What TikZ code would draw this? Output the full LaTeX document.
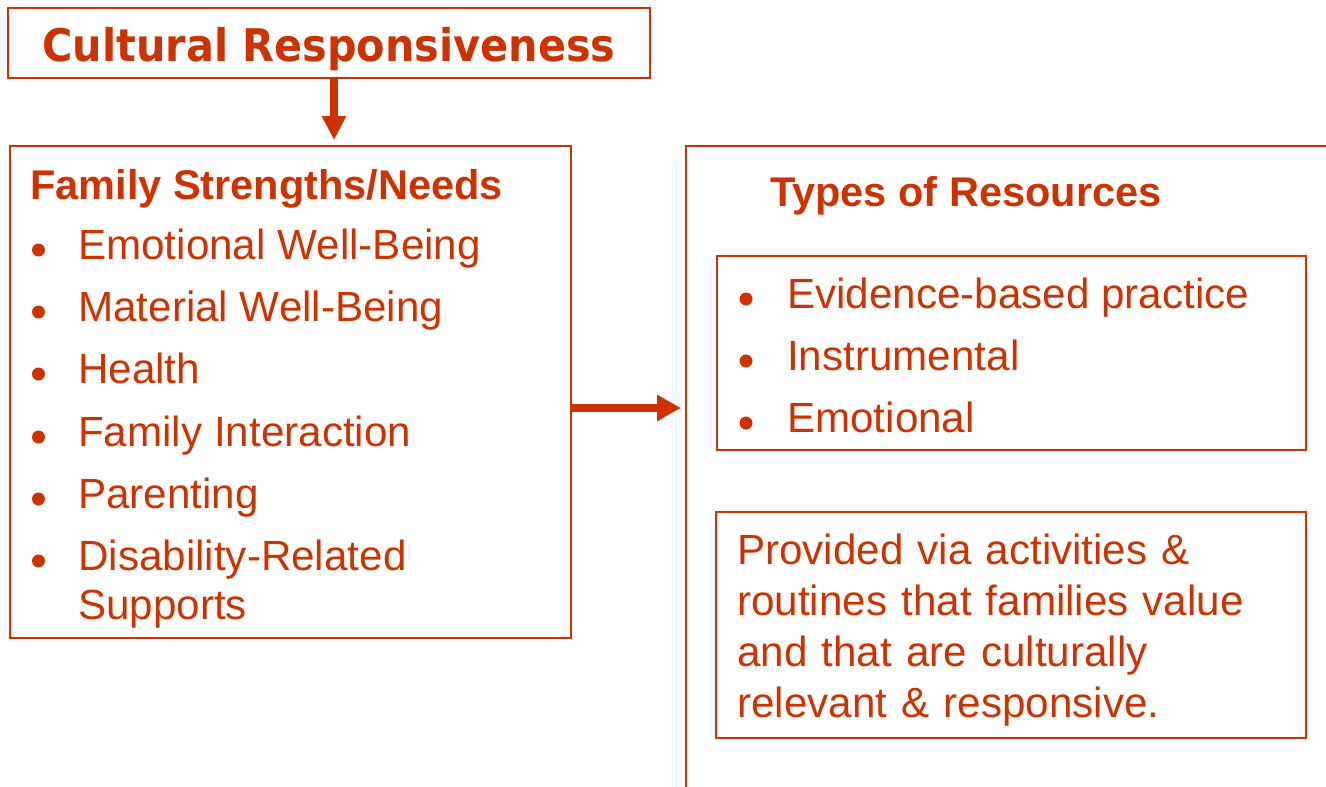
\documentclass[tikz,border=0pt]{standalone}
\usepackage{fontspec}
\setmainfont{Liberation Sans}
\newfontfamily\titlefont{DejaVu Sans}[FakeStretch=0.92]
\usetikzlibrary{arrows.meta}
\definecolor{rust}{RGB}{204,51,0}

\begin{document}
\begin{tikzpicture}[x=1pt,y=-1pt,
    box/.style={draw=rust,line width=2pt,rectangle,inner sep=0pt},
    item/.style={text=rust,inner sep=0pt,anchor=base west,font=\fontsize{42.2}{51}\selectfont},
    head/.style={item,font=\fontsize{41.5}{50}\selectfont\bfseries},
    bulletdot/.style={circle,fill=rust,inner sep=0pt,minimum size=13pt},
    flow/.style={draw=rust,line width=8pt,-{Triangle[length=24pt,width=23pt]}}]
    \clip (0,0) rectangle (1326,787);

    % boxes
    \node[box,minimum width=642pt,minimum height=70pt] (culture) at (329,43) {};
    \node[box,minimum width=561pt,minimum height=492pt] (family) at (290.5,392) {};
    \node[box,minimum width=700pt,minimum height=700pt] (resources) at (1036,496) {};
    \node[box,minimum width=589pt,minimum height=194pt] (kinds) at (1011.5,353) {};
    \node[box,minimum width=590pt,minimum height=226pt] (provided) at (1011,625) {};

    % title
    \node[text=rust,inner sep=0pt,anchor=base] (culturetext) at (329,61)
        {\titlefont\fontsize{45}{54}\selectfont\bfseries Cultural Responsiveness};

    % family strengths and needs
    \node[head] (fshead) at (30,199) {Family Strengths/Needs};
    \node[bulletdot] (fs1) at (38.5,250) {};
    \node[bulletdot] (fs2) at (38.5,312) {};
    \node[bulletdot] (fs3) at (38.5,374) {};
    \node[bulletdot] (fs4) at (38.5,437) {};
    \node[bulletdot] (fs5) at (38.5,499) {};
    \node[bulletdot] (fs6) at (38.5,561) {};
    \node[item] (emotional) at (78,259) {Emotional Well-Being};
    \node[item] (material) at (78,321) {Material Well-Being};
    \node[item] (health) at (78,383) {Health};
    \node[item] (interaction) at (78,446) {Family Interaction};
    \node[item] (parenting) at (78,508) {Parenting};
    \node[item] (disability) at (78,570) {Disability-Related};
    \node[item] (supports) at (78,619) {Supports};

    % types of resources
    \node[head] (trhead) at (770,206) {Types of Resources};
    \node[bulletdot] (tr1) at (746,299) {};
    \node[bulletdot] (tr2) at (746,361) {};
    \node[bulletdot] (tr3) at (746,423) {};
    \node[item] (evidence) at (787,308) {Evidence-based practice};
    \node[item] (instrumental) at (787,370) {Instrumental};
    \node[item] (emotion) at (787,432) {Emotional};

    \node[item,text width=565pt,align=left] (providedtext) at (737,564)
        {Provided via activities \&\\routines that families value\\and that are culturally\\relevant \& responsive.};

    % arrows
    \draw[flow,shorten >=5pt] (culture.south -| 334,0) -- (family.north -| 334,0);
    \draw[flow,-{Triangle[length=24pt,width=25pt]},shorten >=4pt]
        (family.east |- 0,408) -- (resources.west |- 0,408);
\end{tikzpicture}
\end{document}
